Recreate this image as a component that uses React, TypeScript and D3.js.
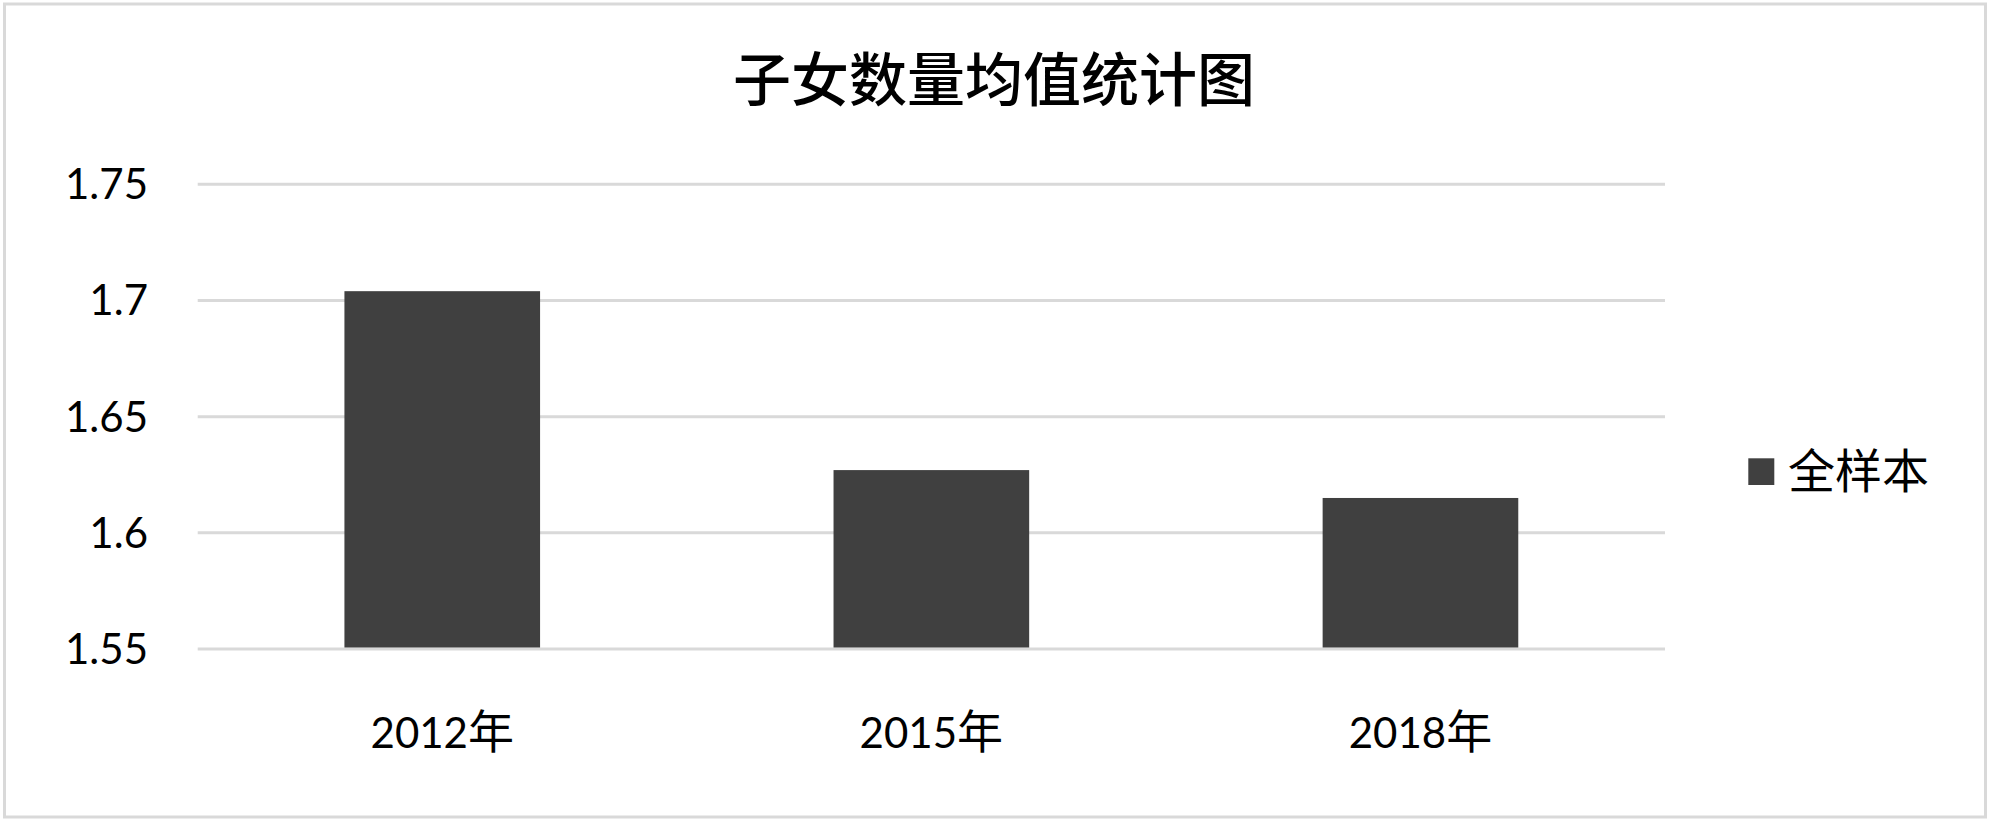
import React from "react";
import * as d3 from "d3";

const title = "子女数量均值统计图";
const categories = ["2012", "2015", "2018"];
const categorySuffix = "年";
const seriesName = "全样本";
const values = [1.704, 1.627, 1.615];
const yTicks = [1.55, 1.6, 1.65, 1.7, 1.75];
const yTickLabels = ["1.55", "1.6", "1.65", "1.7", "1.75"];

const W = 2000;
const H = 831;
const plotLeft = 197.7;
const plotRight = 1665;
const yTop = 184.3;
const yBottom = 649;

const numFont = "Lato, 'Open Sans', sans-serif";
const cjkFont = "'Noto Sans CJK SC', 'Noto Sans CJK JP', sans-serif";

export default function App() {
  const x = d3
    .scaleBand<string>()
    .domain(categories)
    .range([plotLeft, plotRight])
    .paddingInner(0.6)
    .paddingOuter(0.3);
  const y = d3.scaleLinear().domain([1.55, 1.75]).range([yBottom, yTop]);

  return (
    <div style={{ position: "fixed", left: 0, top: 0, width: W, height: H, background: "#fff" }}>
      <svg width={W} height={H} style={{ display: "block" }}>
        <rect x={0} y={0} width={W} height={H} fill="#fff" />
        <rect
          x={4.5}
          y={4}
          width={1981}
          height={813}
          fill="#fff"
          stroke="#d9d9d9"
          strokeWidth={3}
        />
        <text
          x={994}
          y={101}
          textAnchor="middle"
          fontFamily={cjkFont}
          fontSize={58}
          fontWeight={500}
          fill="#000"
        >
          {title}
        </text>
        {yTicks.map((t, i) => (
          <g key={t}>
            <line
              x1={plotLeft}
              x2={plotRight}
              y1={y(t)}
              y2={y(t)}
              stroke="#d9d9d9"
              strokeWidth={3}
            />
            <text
              x={148}
              y={y(t) + 15}
              textAnchor="end"
              fontFamily={numFont}
              fontSize={42}
              fill="#000"
            >
              {yTickLabels[i]}
            </text>
          </g>
        ))}
        {categories.map((c, i) => {
          const bx = x(c)!;
          const bw = x.bandwidth();
          return (
            <g key={c}>
              <rect
                x={bx}
                y={y(values[i])}
                width={bw}
                height={y(1.55) - y(values[i]) - 1.5}
                fill="#404040"
              />
              <text
                x={bx + bw / 2}
                y={747.5}
                textAnchor="middle"
                fill="#000"
              >
                <tspan fontFamily={numFont} fontSize={42}>
                  {c}
                </tspan>
                <tspan fontFamily={cjkFont} fontSize={46}>
                  {categorySuffix}
                </tspan>
              </text>
            </g>
          );
        })}
        <rect x={1748.3} y={458.3} width={26} height={26.7} fill="#404040" />
        <text
          x={1788}
          y={488}
          fontFamily={cjkFont}
          fontSize={47}
          fill="#000"
        >
          {seriesName}
        </text>
      </svg>
    </div>
  );
}
